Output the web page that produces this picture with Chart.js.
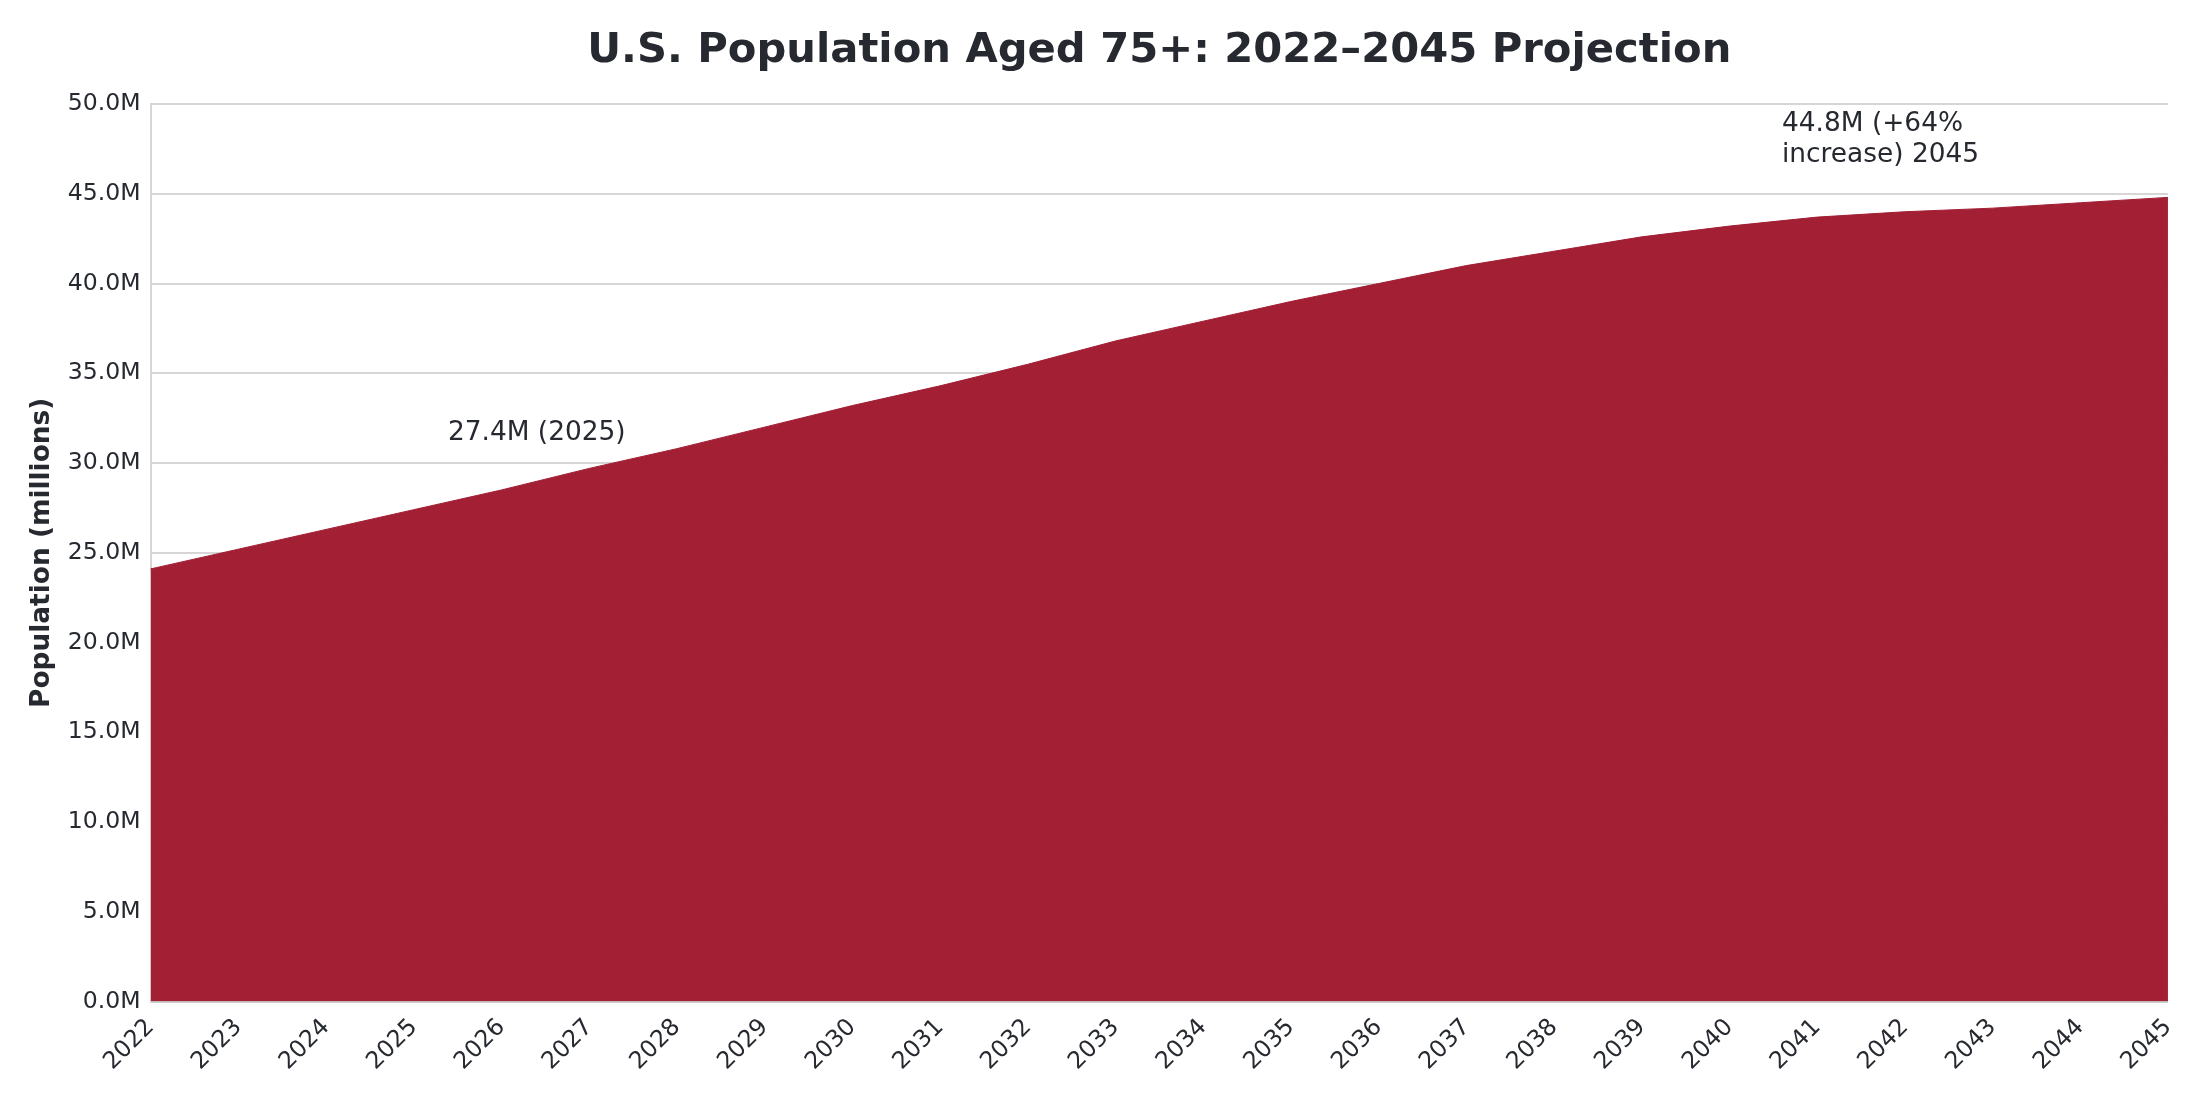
<!DOCTYPE html>
<html>
<head>
<meta charset="utf-8">
<script src="https://cdn.jsdelivr.net/npm/chart.js@4.4.1/dist/chart.umd.min.js"></script>
<style>
  html, body { margin: 0; padding: 0; background: #ffffff; }
  #wrap { width: 2200px; height: 1100px; }
</style>
</head>
<body>
<div id="wrap"><canvas id="area-chart" width="2200" height="1100"></canvas></div>
<script>
// years on the x axis
const years = ['2022','2023','2024','2025','2026','2027','2028','2029','2030','2031','2032','2033',
               '2034','2035','2036','2037','2038','2039','2040','2041','2042','2043','2044','2045'];
// population aged 75+, millions
const population = [24.1, 25.2, 26.3, 27.4, 28.5, 29.7, 30.8, 32.0, 33.2, 34.3, 35.5, 36.8,
                    37.9, 39.0, 40.0, 41.0, 41.8, 42.6, 43.2, 43.7, 44.0, 44.2, 44.5, 44.8];
const yTicks = [0, 5, 10, 15, 20, 25, 30, 35, 40, 45, 50];
const notes = [
    { text: ['27.4M (2025)'], x: 3.39, y: 31.65 },
    { text: ['44.8M (+64%', 'increase) 2045'], x: 18.6, y: 48.87 }
];
const titleText = 'U.S. Population Aged 75+: 2022–2045 Projection';

const textColor = '#262a30';

// title centred over the plot area + text annotations placed through the scales
const notePlugin = {
    id: 'notes',
    afterDatasetsDraw(chart) {
        const ctx = chart.ctx;
        const xs = chart.scales.x, ys = chart.scales.y;
        const area = chart.chartArea;
        ctx.save();
        ctx.fillStyle = textColor;
        ctx.textBaseline = 'middle';

        ctx.font = 'bold 41.7px "DejaVu Sans"';
        ctx.textAlign = 'center';
        ctx.fillText(titleText, (area.left + area.right) / 2, 51);

        ctx.font = '26.4px "DejaVu Sans"';
        ctx.textAlign = 'left';
        notes.forEach(n => {
            let px = xs.getPixelForValue(n.x);
            let py = ys.getPixelForValue(n.y);
            n.text.forEach((line, i) => ctx.fillText(line, px, py + i * 31));
        });
        ctx.restore();
    }
};

let ctx = document.getElementById('area-chart').getContext('2d');

let popChart = new Chart(ctx, {
    type: 'line',
    data: {
        labels: years,
        datasets: [{
            label: 'Population 75+',
            data: population,
            fill: 'origin',
            backgroundColor: '#a21f34',
            borderColor: '#a21f34',
            borderWidth: 1,
            pointRadius: 0,
            tension: 0
        }]
    },
    options: {
        responsive: false,
        devicePixelRatio: 1,
        animation: false,
        layout: { padding: { left: 26, right: 24, top: 0, bottom: 12 } },
        plugins: {
            legend: { display: false },
            tooltip: { enabled: false },
            title: {
                // keeps the space; the visible title is drawn by notePlugin
                display: true,
                text: titleText,
                color: 'rgba(0,0,0,0)',
                font: { family: 'DejaVu Sans', size: 41.7, weight: 'bold' },
                padding: { top: 24, bottom: 30 }
            }
        },
        scales: {
            x: {
                offset: false,
                grid: { display: false, drawTicks: false },
                border: { display: true, color: '#cccccc', width: 2 },
                ticks: {
                    color: textColor,
                    font: { family: 'DejaVu Sans', size: 23.6 },
                    minRotation: 45,
                    maxRotation: 45,
                    autoSkip: false,
                    padding: 12
                }
            },
            y: {
                min: 0,
                max: 50,
                afterBuildTicks: axis => { axis.ticks = yTicks.map(v => ({ value: v })); },
                grid: { color: '#d6d6d6', lineWidth: 2, drawTicks: false },
                border: { display: true, color: '#d6d6d6', width: 2 },
                ticks: {
                    color: textColor,
                    font: { family: 'DejaVu Sans', size: 23.6 },
                    padding: 10,
                    callback: v => v.toFixed(1) + 'M'
                },
                title: {
                    display: true,
                    text: 'Population (millions)',
                    color: textColor,
                    font: { family: 'DejaVu Sans', size: 26.4, weight: 'bold' },
                    padding: { top: 0, bottom: 0 }
                }
            }
        }
    },
    plugins: [notePlugin]
});
</script>
</body>
</html>
